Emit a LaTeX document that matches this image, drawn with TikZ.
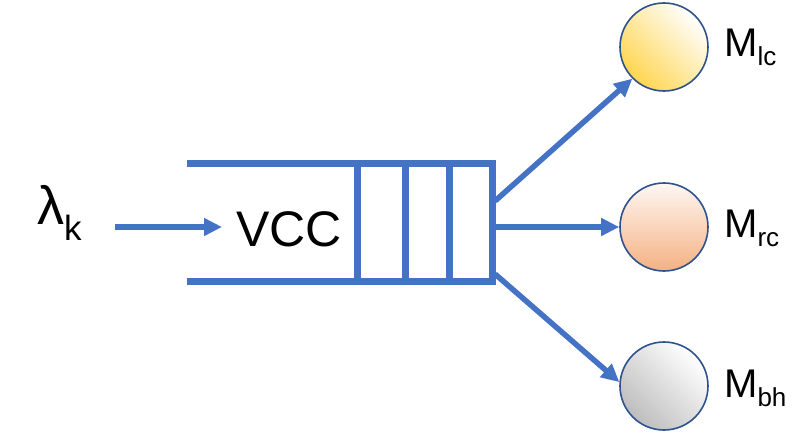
\documentclass[tikz,border=0pt]{standalone}
\usepackage{fontspec}
\setmainfont{Liberation Sans}
\usetikzlibrary{arrows.meta}
\definecolor{qblue}{HTML}{4472C4}
\definecolor{cedge}{HTML}{2F528F}
\definecolor{cgold}{HTML}{FFD54F}
\definecolor{cpeach}{HTML}{F4B183}
\definecolor{cgray}{HTML}{BDBDBD}
\tikzset{
  qline/.style={draw=qblue,line width=7pt},
  flow/.style={draw=qblue,line width=5.5pt,-{Triangle[length=18pt,width=17pt]}},
  server/.style={circle,draw=cedge,line width=1.6pt,minimum size=88pt,inner sep=0pt},
  lbl/.style={font=\fontsize{40}{44}\selectfont,anchor=west,inner sep=0pt},
}
\newcommand{\subtxt}[1]{\raisebox{-9pt}{\fontsize{26}{28}\selectfont #1}}
\begin{document}
\begin{tikzpicture}[x=1pt,y=-1pt]
\useasboundingbox (0,0) rectangle (800,433);
% queue
\draw[qline] (187,163) -- (495.5,163);
\draw[qline] (187,281.5) -- (495.5,281.5);
\draw[qline] (357,163) -- (357,281.5);
\draw[qline] (405,163) -- (405,281.5);
\draw[qline] (449.5,163) -- (449.5,281.5);
\draw[qline] (492,159.5) -- (492,285);
\coordinate (qtop) at (495,201);
\coordinate (qmid) at (495,227);
\coordinate (qbot) at (495,274);
% texts
\node[font=\fontsize{54}{58}\selectfont,inner sep=0pt,anchor=west] (lam) at (37,213) {λ\raisebox{-16pt}{\fontsize{35}{38}\selectfont k}};
\node[font=\fontsize{50}{54}\selectfont,inner sep=0pt,anchor=west] (vcc) at (236,229) {VCC};
\coordinate (ain) at (115,227);
\coordinate (aout) at (222,227);
\draw[flow] (ain) -- (aout);
% servers
\node[server,top color=white,bottom color=cgold,shading angle=-45] (s1) at (664,47) {};
\node[server,top color=white!90!cpeach,bottom color=cpeach] (s2) at (664,227) {};
\node[server,top color=white,bottom color=cgray,shading angle=-45] (s3) at (664,386) {};
\node[lbl] (l1) at (724,47) {M\subtxt{lc}};
\node[lbl] (l2) at (724,228) {M\subtxt{rc}};
\node[lbl] (l3) at (724,388) {M\subtxt{bh}};
\draw[flow] (qtop) -- (s1.225);
\draw[flow] (qmid) -- (s2.west);
\draw[flow] (qbot) -- (s3.175);
\end{tikzpicture}
\end{document}
